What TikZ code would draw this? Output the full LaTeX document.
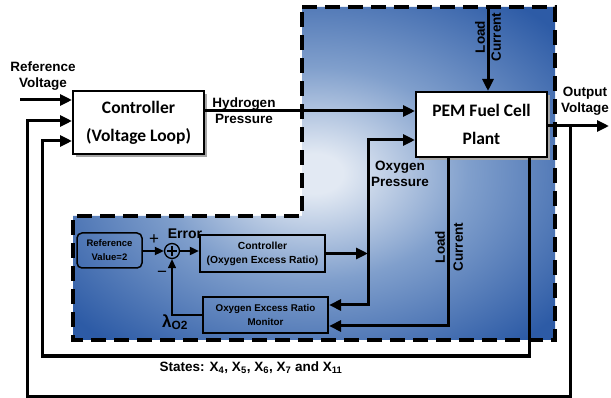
\documentclass[tikz,border=0pt]{standalone}
\usepackage{fontspec}
\setmainfont{Liberation Sans}
\newfontfamily\calfont{Carlito}
\usepackage{tikz}
\usetikzlibrary{
    calc,
    arrows.meta,
    shadows
}
\definecolor{glowin}{HTML}{E2E9F3}
\definecolor{glowmid}{HTML}{809FCC}
\definecolor{glowout}{HTML}{2D5BA6}
\pgfdeclareradialshading{fcglow}{\pgfpoint{0bp}{0bp}}{color(0bp)=(glowin); color(3bp)=(glowin); color(16bp)=(glowmid); color(33bp)=(glowout); color(75bp)=(glowout)}

\begin{document}
\begin{tikzpicture}[x=1pt,y=-1pt,
    bigarrow/.style={line width=3pt,-{Triangle[length=12pt,width=11pt]}},
    smallarrow/.style={line width=1.8pt,-{Triangle[length=9pt,width=8pt]}},
    bigbox/.style={draw,line width=2pt,fill=white,align=center,
        drop shadow={shadow xshift=3pt,shadow yshift=-3pt,fill=gray!70,opacity=1},
        font=\calfont\bfseries\fontsize{17.5}{28}\selectfont},
    smallbox/.style={draw,line width=2.2pt,align=center,inner sep=0pt,
        font=\fontsize{10}{13}\selectfont},
    lbl/.style={align=center,inner sep=0pt,font=\bfseries\fontsize{13.5}{16}\selectfont}]

\useasboundingbox (0,0) rectangle (611,398);

% shaded plant region
\shadedraw[shading=fcglow,line width=3.5pt,dash pattern=on 15pt off 8pt]
    (302,7) -- (555,7) -- (555,340) -- (73,340) -- (73,216) -- (302,216) -- cycle;

% blocks
\node[bigbox,minimum width=131pt,minimum height=63pt] (ctrl) at (138.5,122.5) {Controller\\(Voltage Loop)};
\node[bigbox,minimum width=131pt,minimum height=65pt] (pem) at (481.5,124.5) {PEM Fuel Cell\\Plant};
\node[smallbox,minimum width=125pt,minimum height=37pt,font=\bfseries\fontsize{10.3}{14}\selectfont] (ctrlo) at (262.5,253.5) {Controller\\(Oxygen Excess Ratio)};
\node[smallbox,minimum width=125pt,minimum height=36pt,font=\bfseries\fontsize{9.8}{14}\selectfont] (mon) at (265.5,315) {Oxygen Excess Ratio\\Monitor};
\node[smallbox,line width=1.5pt,rounded corners=5pt,minimum width=65pt,minimum height=35pt,font=\bfseries\fontsize{9.5}{14}\selectfont] (refv) at (109.5,250.5) {Reference\\Value=2};
\node[circle,draw,line width=1.3pt,minimum size=15pt,inner sep=0pt,
    path picture={\draw[line width=1.2pt] ($(path picture bounding box.center)+(-5pt,0)$) -- ++(10pt,0)
        ($(path picture bounding box.center)+(0,-5pt)$) -- ++(0,10pt);}] (sum) at (172,251) {};

% corner points
\coordinate (rvin) at (20,100);
\coordinate (h2) at (0,111);
\coordinate (lctop) at (488,7);
\coordinate (vout) at (609,126);
\coordinate (ob1) at (570,126);
\coordinate (ob2) at (570,396);
\coordinate (ob3) at (27,396);
\coordinate (oin) at (27,121);
\coordinate (st1) at (529,157);
\coordinate (st2) at (529,356);
\coordinate (st3) at (42,356);
\coordinate (sin) at (42,141);
\coordinate (o2t) at (368,140);
\coordinate (o2b) at (368,305);
\coordinate (lc1) at (448,157);
\coordinate (lc2) at (448,326);

% connectors
\draw[bigarrow] (rvin) -- (rvin -| ctrl.west);
\draw[bigarrow] (ctrl.east |- h2) -- (pem.west |- h2);
\draw[bigarrow] (lctop) -- (pem.north -| lctop);
\draw[bigarrow] (pem.east |- vout) -- (vout);
\draw[bigarrow] (ob1) -- (ob2) -- (ob3) -- (oin) -- (oin -| ctrl.west);
\draw[bigarrow] (st1) -- (st2) -- (st3) -- (sin) -- (sin -| ctrl.west);
\draw[bigarrow] (ctrlo.east) -- (ctrlo.east -| o2t);
\draw[bigarrow] (o2b) -- (o2t) -- (o2t -| pem.west);
\draw[bigarrow] (o2t) -- (o2b) -- (o2b -| mon.east);
\draw[bigarrow] (lc1) -- (lc2) -- (lc2 -| mon.east);
\draw[smallarrow] (refv.east |- sum) -- (sum.west);
\draw[smallarrow] (sum.east) -- (sum -| ctrlo.west);
\draw[smallarrow,line width=1.3pt] (mon.west) -- (mon.west -| sum) -- (sum.south);

% labels
\node[lbl] (rvlbl) at (43,76) {Reference\\Voltage};
\node[lbl] (h2lbl) at (244,111) {Hydrogen\\Pressure};
\node[lbl,rotate=90] (lctlbl) at (488,37) {Load\\Current};
\node[lbl] (voutlbl) at (585,101) {Output\\Voltage};
\node[lbl] (o2lbl) at (400,174) {Oxygen\\Pressure};
\node[lbl,rotate=90,font=\bfseries\fontsize{13.5}{18}\selectfont] (lcblbl) at (449,247) {Load\\Current};
\node[lbl] (stlbl) at (251,368) {States: X\textsubscript{4}, X\textsubscript{5}, X\textsubscript{6}, X\textsubscript{7} and X\textsubscript{11}};
\node[lbl,font=\bfseries\fontsize{14}{14}\selectfont] (errlbl) at (185,234) {Error};
\node[lbl,font=\fontsize{17}{17}\selectfont] (plus) at (154,240) {+};
\node[lbl,font=\fontsize{17}{17}\selectfont] (minus) at (162,274) {−};
\node[lbl,font=\bfseries\fontsize{17}{17}\selectfont] (lamlbl) at (175,322) {λ\textsubscript{O2}};

\end{tikzpicture}
\end{document}
